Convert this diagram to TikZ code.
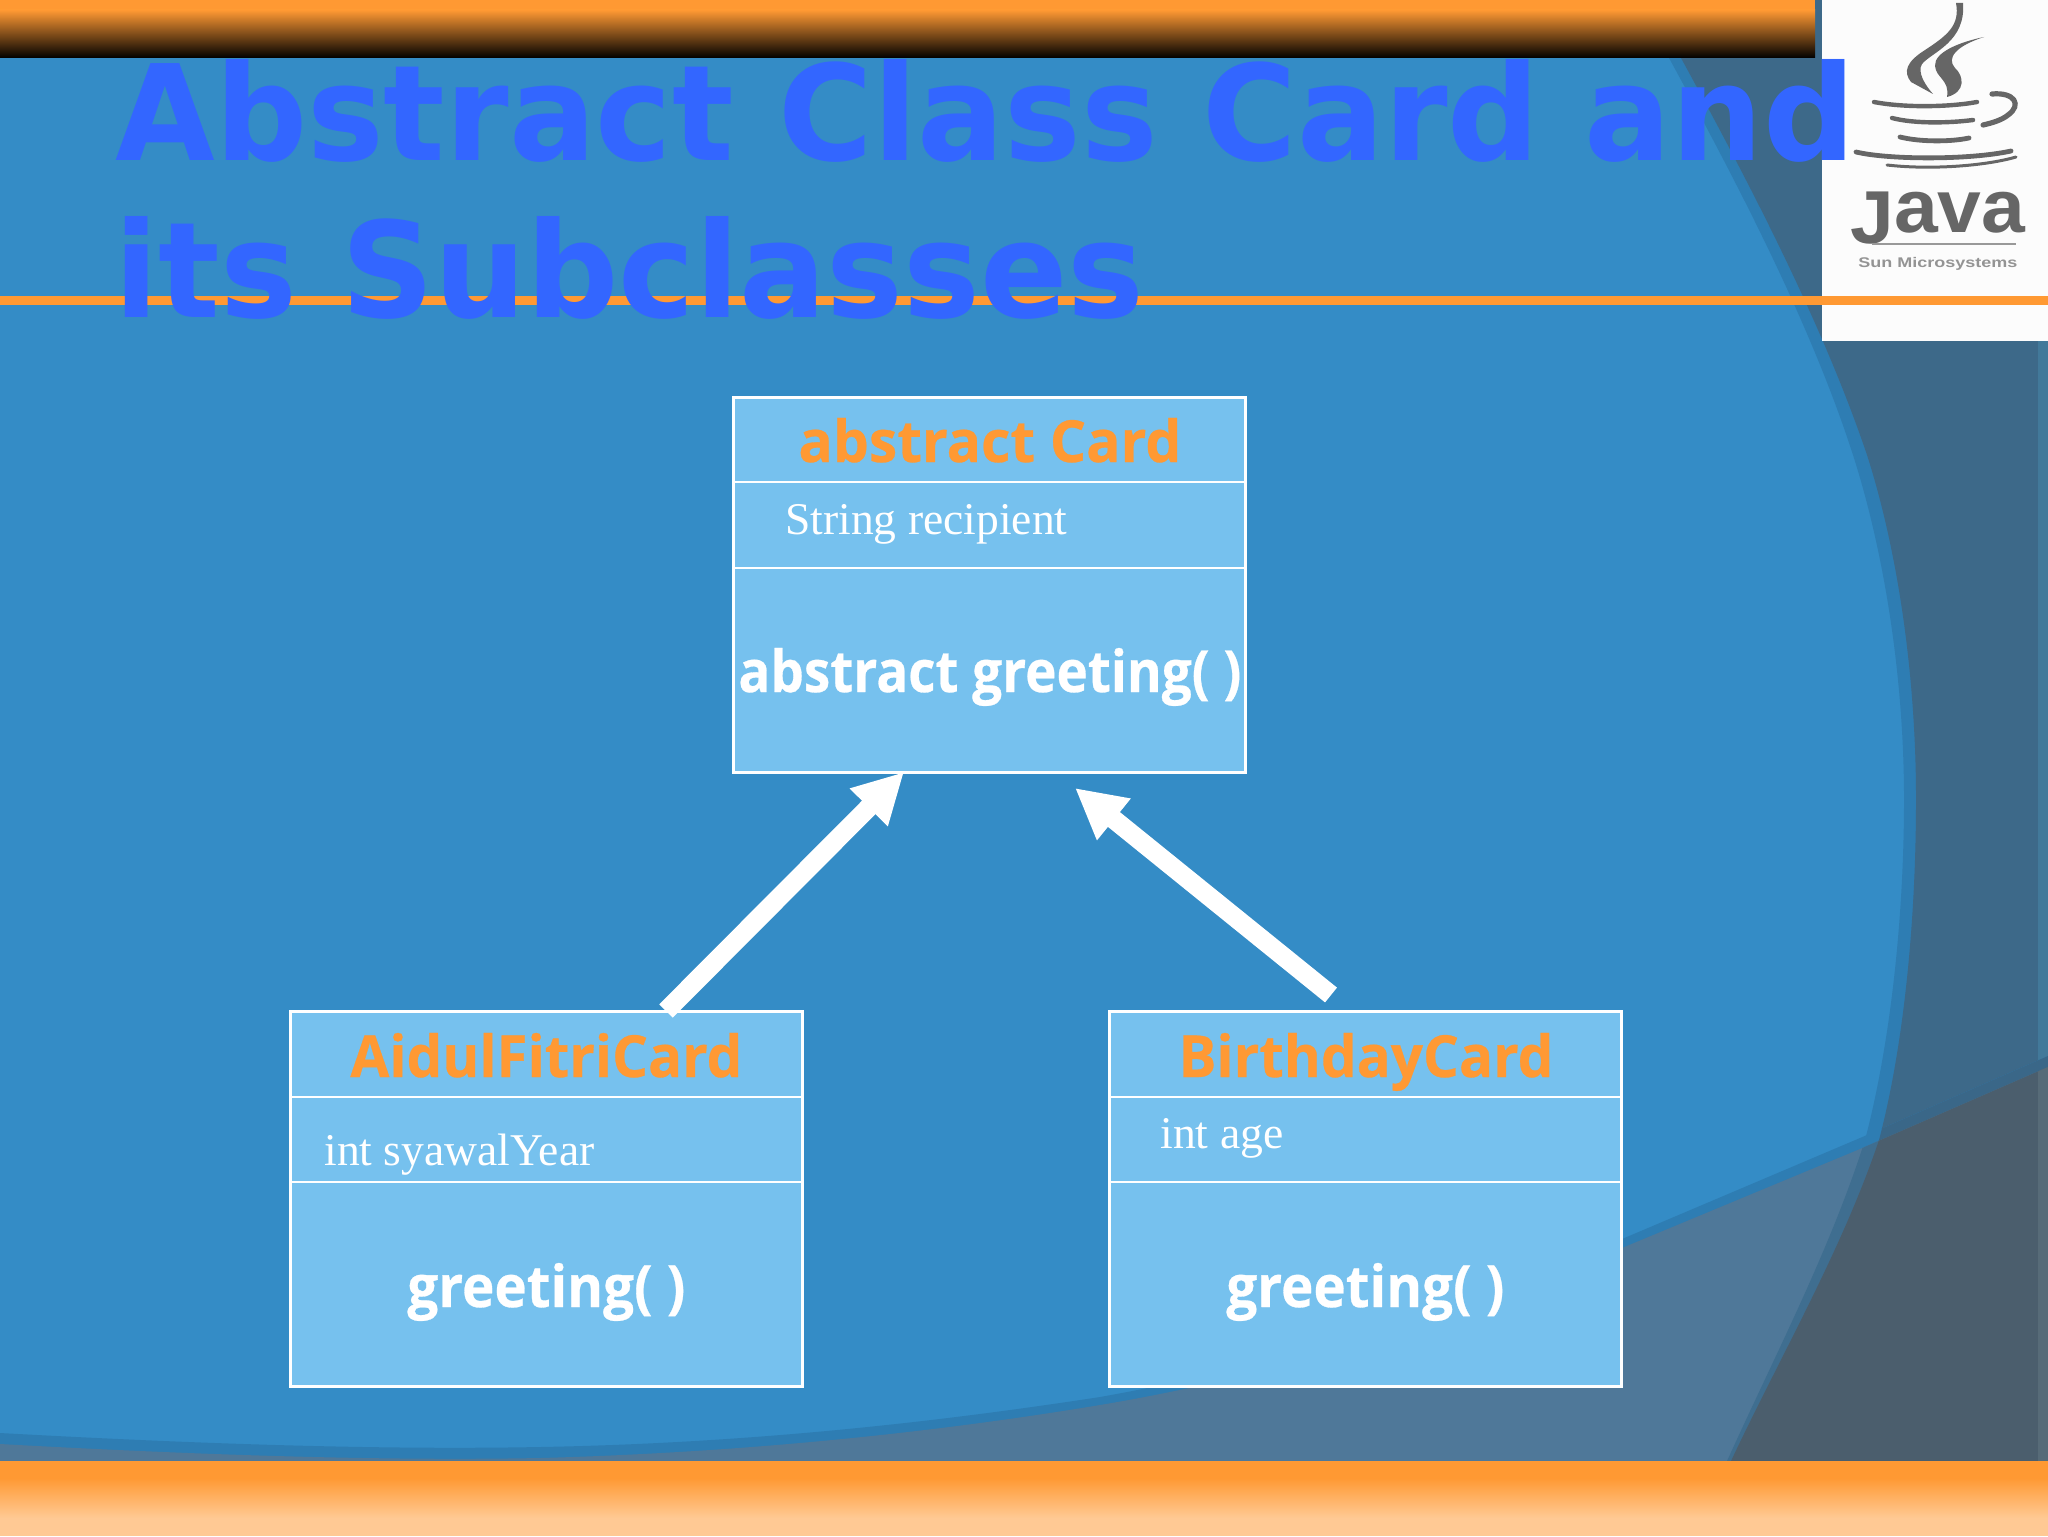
\documentclass[tikz,border=0pt]{standalone}
\usepackage{fontspec}
\setmainfont{DejaVu Sans}
\newfontfamily\serifface{Liberation Serif}
\newfontfamily\logoface{Liberation Sans}
\newfontfamily\boxface[BoldFeatures={FakeBold=0.5}]{Open Sans}
\usetikzlibrary{arrows.meta,calc}
\definecolor{slideblue}{HTML}{348CC6}
\definecolor{bandblue}{HTML}{2E7DB3}
\definecolor{darktop}{HTML}{3D6989}
\definecolor{darkband}{HTML}{3A6788}
\definecolor{midlow}{HTML}{4F7899}
\definecolor{arclow}{HTML}{3F6E90}
\definecolor{darklow}{HTML}{4B5E6D}
\definecolor{striptop}{HTML}{42799A}
\definecolor{striplow}{HTML}{576B78}
\definecolor{boxfill}{HTML}{76C1EE}
\definecolor{accent}{HTML}{FF9933}
\definecolor{accentpale}{HTML}{FFCC99}
\definecolor{titleblue}{HTML}{3366FF}
\definecolor{logogray}{HTML}{666666}
\newcommand{\fitw}[2]{\setbox0\hbox{#2}\pgfmathsetmacro\fitr{#1*0.5/\the\wd0}\scalebox{\fitr}[1]{\box0}}
\newcommand{\outA}{(1640,0) -- (1669,58) .. controls (1740,188) and (1811,325) .. (1853,455) .. controls (1885,555) and (1904,680) .. (1904,799) .. controls (1904,920) and (1890,1045) .. (1865,1140) .. controls (1830,1250) and (1775,1355) .. (1727,1461) -- (1720,1475) -- (2048,1475) -- (2048,0) -- cycle}
\newcommand{\outB}{(1652,0) -- (1681,58) .. controls (1752,188) and (1823,325) .. (1867,455) .. controls (1899,555) and (1916,680) .. (1916,799) .. controls (1916,920) and (1904,1045) .. (1879,1140) .. controls (1842,1250) and (1781,1355) .. (1731,1461) -- (1724,1475) -- (2048,1475) -- (2048,0) -- cycle}
\newcommand{\belowU}{(0,1433) .. controls (200,1444) and (380,1450) .. (540,1447) .. controls (760,1443) and (950,1420) .. (1100,1397) .. controls (1280,1365) and (1450,1310) .. (1622,1239) -- (1860,1138) -- (2048,1056) -- (2048,1475) -- (0,1475) -- cycle}
\newcommand{\belowL}{(0,1444) .. controls (200,1455) and (380,1461) .. (540,1458) .. controls (760,1452) and (950,1430) .. (1100,1405) .. controls (1280,1375) and (1450,1320) .. (1622,1248) -- (1860,1149) -- (2048,1067) -- (2048,1475) -- (0,1475) -- cycle}
\tikzset{
  classbox/.style={draw=white,fill=boxfill,line width=1.5pt,minimum width=256pt,minimum height=187.5pt,anchor=north west,inner sep=0pt,outer sep=0pt},
  divider/.style={draw=white,line width=1.4pt},
  cardtitle/.style={anchor=base west,inner sep=0pt,text=accent,font=\fontsize{29}{29}\selectfont\boxface\bfseries},
  cardmethod/.style={anchor=base west,inner sep=0pt,text=white,font=\fontsize{29}{29}\selectfont\boxface\bfseries},
  cardattr/.style={anchor=base west,inner sep=0pt,text=white,font=\fontsize{22.7}{22.7}\selectfont\serifface},
  slidetitle/.style={anchor=base west,inner sep=0pt,text=titleblue,font=\fontsize{66.5}{66.5}\selectfont\bfseries},
  inherit/.style={draw=white,line width=9.5pt,-{Triangle[length=25pt,width=25pt,fill=white]}},
  steam/.style={draw=logogray,line cap=round,line join=round},
}
\begin{document}
\begin{tikzpicture}[x=0.5pt,y=-0.5pt]
\useasboundingbox (0,0) rectangle (2048,1536);
% background
\fill[slideblue] (0,0) rectangle (2048,1536);
\begin{scope}\clip \outA; \fill[bandblue] (0,0) rectangle (2048,1536);\end{scope}
\begin{scope}\clip \outB; \fill[darktop] (0,0) rectangle (2048,1536);\fill[striptop] (2038,0) rectangle (2048,1536);\end{scope}
\begin{scope}\clip \belowU; \fill[bandblue] (0,0) rectangle (2048,1536);
  \begin{scope}\clip \outB; \fill[darkband] (0,0) rectangle (2048,1536);\end{scope}
\end{scope}
\begin{scope}\clip \belowL; \fill[midlow] (0,0) rectangle (2048,1536);
  \begin{scope}\clip \outA; \fill[arclow] (0,0) rectangle (2048,1536);\end{scope}
  \begin{scope}\clip \outB; \fill[darklow] (0,0) rectangle (2048,1536);\fill[striplow] (2038,0) rectangle (2048,1536);\end{scope}
\end{scope}
% bars
\fill[accent] (0,0) rectangle (1815,10);
\shade[top color=accent,bottom color=black] (0,10) rectangle (1815,58);
\fill[accent] (0,1461) rectangle (2048,1478);
\shade[top color=accent,bottom color=accentpale!95!accent] (0,1478) rectangle (2048,1518);
\fill[accentpale!95!accent] (0,1518) rectangle (2048,1536);
% Java logo
\fill[white!99!black] (1822,0) rectangle (2048,341);
\begin{scope}
\fill[logogray] (1956,3) .. controls (1960,25) and (1948,35) .. (1925,50) .. controls (1906,62) and (1903,72) .. (1911,82) -- (1933,94) .. controls (1925,85) and (1917,72) .. (1922,64) .. controls (1932,52) and (1966,42) .. (1963,3) -- cycle;
\fill[logogray] (1984,37) .. controls (1960,42) and (1934,52) .. (1935,66) .. controls (1936,78) and (1950,80) .. (1947,97) .. controls (1966,92) and (1964,76) .. (1955,68) .. controls (1946,58) and (1956,46) .. (1984,37) -- cycle;
\draw[steam,line width=2.2pt] (1874,102) .. controls (1905,108) and (1950,107) .. (1977,102);
\draw[steam,line width=2.2pt] (1892,118) .. controls (1915,124) and (1950,123) .. (1973,120);
\draw[steam,line width=2.4pt] (1900,137) .. controls (1920,142) and (1950,142) .. (1969,138);
\draw[steam,line width=2.4pt] (1856,152) .. controls (1890,160) and (1970,160) .. (2011,151);
\draw[steam,line width=1.5pt] (1887,165) .. controls (1930,170) and (1985,166) .. (2016,157);
\draw[steam,line width=2.6pt] (1992,94) .. controls (2015,92) and (2022,105) .. (2008,115) .. controls (2002,120) and (1992,123) .. (1983,125);
\node[anchor=base west,inner sep=0pt,text=logogray,font=\fontsize{37.5}{37.5}\selectfont\logoface\bfseries] (javaword) at (1850,232) {\fitw{175}{\raisebox{-5.5pt}{J}ava}};
\draw[draw=black!40,line width=1pt] (1872,244) -- (2016,244);
\node[anchor=base west,inner sep=0pt,text=logogray!70,font=\fontsize{7}{7}\selectfont\logoface\bfseries] (sunword) at (1858,267) {\fitw{159}{Sun Microsystems}};
\end{scope}
% rule
\fill[accent] (0,296) rectangle (2048,305);
% title
\node[slidetitle] (titlea) at (115,160) {\fitw{1740}{Abstract Class Card and}};
\node[slidetitle] (titleb) at (114,317) {\fitw{1030}{its Subclasses}};
% classes
\node[classbox] (card) at (733,397) {};
\node[classbox] (fitri) at (290,1011) {};
\node[classbox] (bday) at (1109,1011) {};
\draw[divider] ($(card.north west)+(0,85)$) -- ($(card.north east)+(0,85)$);
\draw[divider] ($(card.north west)+(0,171)$) -- ($(card.north east)+(0,171)$);
\draw[divider] ($(fitri.north west)+(0,86)$) -- ($(fitri.north east)+(0,86)$);
\draw[divider] ($(fitri.north west)+(0,171)$) -- ($(fitri.north east)+(0,171)$);
\draw[divider] ($(bday.north west)+(0,86)$) -- ($(bday.north east)+(0,86)$);
\draw[divider] ($(bday.north west)+(0,171)$) -- ($(bday.north east)+(0,171)$);
\node[cardtitle] (cardname) at (798,462) {\fitw{383}{abstract Card}};
\node[cardattr] (cardfield) at (785,534) {\fitw{282}{String recipient}};
\node[cardmethod] (cardop) at (738,692) {\fitw{503}{abstract greeting( )}};
\node[cardtitle] (fitriname) at (350,1077) {\fitw{392}{AidulFitriCard}};
\node[cardattr] (fitrifield) at (324,1165) {\fitw{270}{int syawalYear}};
\node[cardmethod] (fitriop) at (407,1307) {\fitw{278}{greeting( )}};
\node[cardtitle] (bdayname) at (1178,1077) {\fitw{375}{BirthdayCard}};
\node[cardattr] (bdayfield) at (1160,1148) {\fitw{123}{int age}};
\node[cardmethod] (bdayop) at (1226,1307) {\fitw{278}{greeting( )}};
% inheritance
\coordinate (tailfitri) at ($(fitri.north west)+(376,0)$);
\coordinate (tipfitri) at ($(card.south west)+(171,0)$);
\coordinate (tailbday) at ($(bday.north west)+(222,-16)$);
\coordinate (tipbday) at ($(card.south west)+(342,16)$);
\draw[inherit] (tailfitri) -- (tipfitri);
\draw[inherit] (tailbday) -- (tipbday);
\end{tikzpicture}
\end{document}
